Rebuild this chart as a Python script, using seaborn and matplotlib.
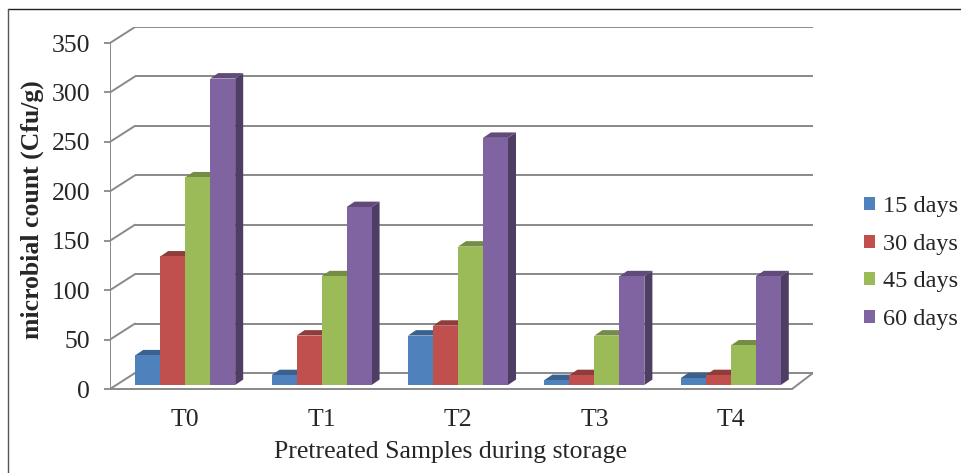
import numpy as np
import pandas as pd
import matplotlib
matplotlib.use("Agg")
import matplotlib.pyplot as plt
from matplotlib.patches import Polygon, Patch
from matplotlib.lines import Line2D
import matplotlib.colors as mcolors
import seaborn as sns

# ---- data ----
samples = ["T0", "T1", "T2", "T3", "T4"]
storage = ["15 days", "30 days", "45 days", "60 days"]
d15 = [30, 10, 50, 5, 7]
d30 = [130, 50, 60, 10, 10]
d45 = [210, 110, 140, 50, 40]
d60 = [310, 180, 250, 110, 110]
yticks = [0, 50, 100, 150, 200, 250, 300, 350]
colors = ["#4F81BD", "#C0504D", "#9BBB59", "#8064A2"]

rows = []
for s, vals in zip(storage, [d15, d30, d45, d60]):
    for c, v in zip(samples, vals):
        rows.append({"Sample": c, "Storage": s, "count": v})
df = pd.DataFrame(rows)

sns.set_style("white")
plt.rcParams["font.family"] = ["Liberation Serif", "DejaVu Serif"]

W, H = 961, 473
fig = plt.figure(figsize=(W / 100, H / 100), dpi=100)

# axes geometry in pixels
px_left, px_right, px_top, px_bot = 110, 813, 27, 392
ax = fig.add_axes([px_left / W, (H - px_bot) / H, (px_right - px_left) / W, (px_bot - px_top) / H])

cat_px = 682 / 5.0          # pixels per category
yscale = 346 / 350.0        # pixels per unit
xmin = -0.5
xmax = xmin + (px_right - px_left) / cat_px
ymax = (389 - px_top) / yscale
ymin = -(px_bot - 389) / yscale

back_dx = 25 / cat_px
back_dy = ymax - 350
grid_c = "#898989"
glw = 1.4

sns.barplot(data=df, x="Sample", y="count", hue="Storage", palette=colors,
            width=0.733, ax=ax, legend=False, saturation=1, errorbar=None)
ax.set_xlim(xmin, xmax)
ax.set_ylim(ymin, ymax)

# back wall grid + left wall diagonals
for v in yticks:
    ax.plot([xmin + back_dx, xmax], [v + back_dy, v + back_dy], color=grid_c, lw=glw, zorder=0,
            solid_capstyle="butt")
    ax.plot([xmin, xmin + back_dx], [v, v + back_dy], color=grid_c, lw=glw, zorder=0)
# floor
ax.plot([xmin, 4.5], [0, 0], color=grid_c, lw=glw, zorder=0.5)
ax.plot([4.5, xmax], [0, back_dy], color=grid_c, lw=glw, zorder=0.5)
# front vertical axis
ax.plot([xmin, xmin], [0, 350], color=grid_c, lw=glw, zorder=0.5)

# shift bars into depth and add 3D faces
shift_x = 7 / cat_px
shift_y = 4 / yscale
ddx = 8 / cat_px
ddy = 5.5
bars_sorted = sorted(list(ax.patches), key=lambda p: p.get_x())
for i, p in enumerate(bars_sorted):
    x0 = p.get_x() + shift_x
    w = p.get_width()
    h = p.get_height()
    y0 = shift_y
    p.set_x(x0)
    p.set_y(y0)
    p.set_edgecolor("none")
    base = np.array(mcolors.to_rgb(p.get_facecolor()))
    side = base * 0.62
    top = base * 0.75
    z = 2 + i * 0.1
    p.set_zorder(z + 0.05)
    x1 = x0 + w
    y1 = y0 + h
    ax.add_patch(Polygon([(x1, y0), (x1, y1), (x1 + ddx, y1 + ddy), (x1 + ddx, y0 + ddy)],
                         closed=True, facecolor=side, edgecolor="none", zorder=z))
    ax.add_patch(Polygon([(x0, y1), (x1, y1), (x1 + ddx, y1 + ddy), (x0 + ddx, y1 + ddy)],
                         closed=True, facecolor=top, edgecolor="none", zorder=z))

fs = 18.5
for s in ax.spines.values():
    s.set_visible(False)
ax.set_yticks(yticks)
ax.set_yticklabels([str(v) for v in yticks], fontsize=fs)
ax.tick_params(axis="y", left=True, length=4.3, width=1.3, color=grid_c, pad=10)
ax.set_xticks([i + shift_x for i in range(len(samples))])
ax.set_xticklabels(samples, fontsize=fs)
ax.tick_params(axis="x", bottom=False, pad=9)
ax.set_xlabel("Pretreated Samples during storage", fontsize=fs)
ax.xaxis.label.set_va("center")
ax.set_ylabel("microbial count (Cfu/g)", fontsize=fs, fontweight="bold", labelpad=5.5)
ax.grid(False)
# place x label center at ~452 px from top
ax.xaxis.set_label_coords((451 - px_left) / (px_right - px_left), -(452 - px_bot) / (px_bot - px_top))

handles = [Patch(facecolor=c, edgecolor="none") for c in colors]
fig.legend(handles, storage, loc="center left", bbox_to_anchor=(864 / W, 1 - 263 / H),
           frameon=False, fontsize=17.5, handlelength=0.45, handleheight=0.45,
           handletextpad=0.32, labelspacing=0.68, borderaxespad=0, borderpad=0)

# figure border (top and left)
fig.add_artist(Line2D([8 / W, 1], [1 - 9 / H, 1 - 9 / H], color="#222222", lw=1.0,
                      transform=fig.transFigure))
fig.add_artist(Line2D([8 / W, 8 / W], [0, 1 - 9 / H], color="#555555", lw=1.0,
                      transform=fig.transFigure))

fig.savefig("out.png", dpi=100)
